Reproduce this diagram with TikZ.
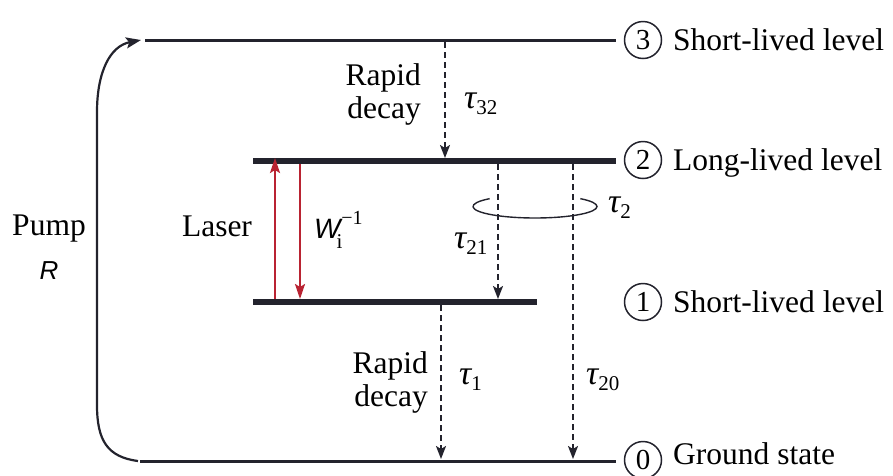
\documentclass[tikz,border=0pt]{standalone}
\usepackage{fontspec}
\setmainfont{Liberation Serif}
\newfontfamily\sansf{Liberation Sans}
\usetikzlibrary{arrows.meta}
\definecolor{lvlcol}{RGB}{35,35,45}
\definecolor{lasred}{RGB}{185,35,50}
\newcommand\tlab[1]{{\fontsize{34}{34}\selectfont\itshape τ}\raisebox{-6pt}{\fontsize{21}{21}\selectfont #1}}
\tikzset{
  txt/.style={inner sep=0pt, font=\fontsize{31.5}{33}\selectfont},
  circ/.style={circle, draw=lvlcol, line width=1.5pt, minimum size=37pt, inner sep=0pt, font=\fontsize{29}{29}\selectfont},
  thinlvl/.style={draw=lvlcol, line width=3pt},
  thicklvl/.style={draw=lvlcol, line width=5.5pt},
  dashar/.style={draw=lvlcol, line width=2pt, dash pattern=on 6pt off 4pt, -{Stealth[length=13pt,width=10pt,inset=3pt]}},
  redar/.style={draw=lasred, line width=2.2pt, -{Stealth[length=15pt,width=10pt,inset=3pt]}},
  pumpar/.style={draw=lvlcol, line width=2.2pt, -{Stealth[length=15pt,width=11pt,inset=3pt]}},
}
\begin{document}
\begin{tikzpicture}[x=1pt,y=-1pt]
\useasboundingbox (0,0) rectangle (893,475);
% circles
\node[circ] (n3) at (643,40) {3};
\node[circ] (n2) at (643,160) {2};
\node[circ] (n1) at (643,302) {1};
\node[circ] (n0) at (643,460) {0};
% level labels
\node[txt, anchor=base west] (t3) at (673,50) {Short-lived level};
\node[txt, anchor=base west] (t2) at (673,170) {Long-lived level};
\node[txt, anchor=base west] (t1) at (673,312) {Short-lived level};
\node[txt, anchor=base west] (t0) at (673,464) {Ground state};
% level lines
\coordinate (l3a) at (145,40);
\coordinate (l3b) at (616,40);
\coordinate (l2a) at (253,161);
\coordinate (l2b) at (616,161);
\coordinate (l1a) at (253,302);
\coordinate (l1b) at (537,302);
\coordinate (l0a) at (140,461);
\coordinate (l0b) at (616,461);
\draw[thinlvl] (l3a) -- (l3b);
\draw[thicklvl] (l2a) -- (l2b);
\draw[thicklvl] (l1a) -- (l1b);
\draw[thinlvl] (l0a) -- (l0b);
% pump
\coordinate (p0) at (138,461);
\coordinate (p1) at (97,405);
\coordinate (p2) at (97,112);
\coordinate (p3) at (141,40);
\draw[pumpar] (p0) .. controls (107,457) and (97,440) .. (p1) -- (p2) .. controls (97,72) and (110,46) .. (p3);
\node[txt, anchor=base] (pump) at (49,235) {Pump};
\node[txt, anchor=base, font=\sansf\itshape\fontsize{26}{26}\selectfont] (R) at (49,279) {R};
% laser arrows
\coordinate (u0) at (275,299);
\coordinate (u1) at (275,158);
\coordinate (d0) at (300,164);
\coordinate (d1) at (300,299);
\draw[redar] (u0) -- (u1);
\draw[redar] (d0) -- (d1);
\node[txt, anchor=base] (laser) at (217,236) {Laser};
\node[txt, anchor=base west] (W) at (314,238) {{\sansf\itshape\fontsize{28}{28}\selectfont W}\hspace{-4pt}\raisebox{-10pt}{\fontsize{21}{21}\selectfont i}\hspace{-1pt}\raisebox{14pt}{\fontsize{20}{20}\selectfont −1}};
% decays
\coordinate (a32s) at (445,42);
\coordinate (a32e) at (445,158);
\draw[dashar] (a32s) -- (a32e);
\node[txt, anchor=north east, align=right] (rd1) at (421,63) {Rapid\\decay};
\node[txt, anchor=base west] (t32) at (464,108) {\tlab{32}};

\coordinate (a21s) at (498,164);
\coordinate (a21e) at (498,299);
\coordinate (a20s) at (573,164);
\coordinate (a20e) at (573,459);
% ellipse (open at the back)
\draw[lvlcol, line width=1.4pt] (535,206.5) ++(137:62pt and 11.5pt) arc[start angle=137, end angle=403, x radius=62pt, y radius=11.5pt];
\draw[dashar] (a21s) -- (a21e);
\draw[dashar] (a20s) -- (a20e);
\node[txt, anchor=base west] (t2l) at (608,212) {\tlab{2}};
\node[txt, anchor=base west] (t21) at (454,248) {\tlab{21}};
\node[txt, anchor=base west] (t20) at (586,384) {\tlab{20}};

\coordinate (a10s) at (441,305);
\coordinate (a10e) at (441,459);
\draw[dashar] (a10s) -- (a10e);
\node[txt, anchor=north east, align=right] (rd2) at (428,351) {Rapid\\decay};
\node[txt, anchor=base west] (t1l) at (459,384) {\tlab{1}};
\end{tikzpicture}
\end{document}
